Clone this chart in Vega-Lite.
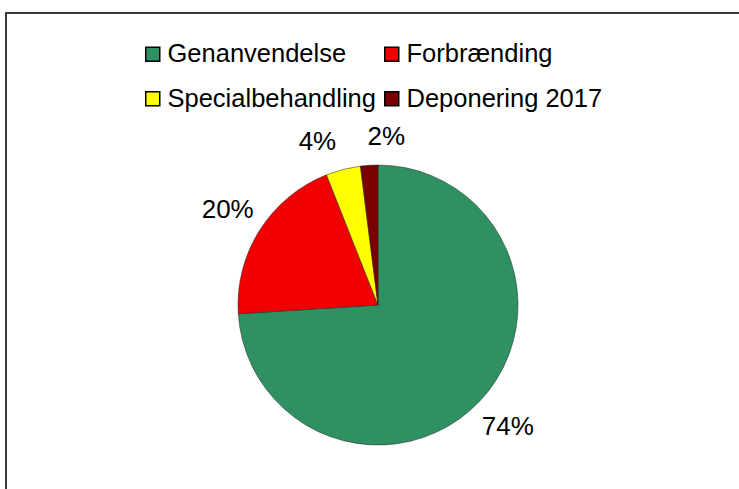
{
  "$schema": "https://vega.github.io/schema/vega-lite/v6.json",
  "width": 744,
  "height": 584,
  "autosize": {"type": "none"},
  "padding": {"left": 6, "top": 13, "right": 0, "bottom": 0},
  "background": "white",
  "config": {
    "font": "Liberation Sans",
    "view": {"stroke": null},
    "legend": {
      "orient": "none",
      "direction": "horizontal",
      "legendX": 134,
      "legendY": 28,
      "padding": 0,
      "columns": 2,
      "symbolType": "square",
      "symbolSize": 196,
      "symbolStrokeColor": "black",
      "symbolStrokeWidth": 1.5,
      "labelFont": "Liberation Sans",
      "labelFontSize": 25.5,
      "labelColor": "black",
      "labelOffset": 2,
      "labelLimit": 400,
      "rowPadding": 18,
      "columnPadding": 3
    }
  },
  "data": {
    "values": [
      {"kategori": "Genanvendelse", "andel": 74, "orden": 1, "label": "74%"},
      {"kategori": "Forbrænding", "andel": 20, "orden": 2, "label": "20%"},
      {"kategori": "Specialbehandling", "andel": 4, "orden": 3, "label": "4%"},
      {"kategori": "Deponering 2017", "andel": 2, "orden": 4, "label": "2%"}
    ]
  },
  "layer": [
    {
      "mark": {"type": "rect", "fill": null, "stroke": "#3a3a3a", "strokeWidth": 1.5},
      "encoding": {}
    },
    {
      "mark": {"type": "arc", "outerRadius": 140, "stroke": "#222", "strokeWidth": 0.5},
      "encoding": {
        "theta": {"field": "andel", "type": "quantitative", "stack": true},
        "order": {"field": "orden", "type": "quantitative"},
        "color": {
          "field": "kategori",
          "type": "nominal",
          "scale": {
            "domain": ["Genanvendelse", "Forbrænding", "Specialbehandling", "Deponering 2017"],
            "range": ["#2f9162", "#f00000", "#ffff00", "#7a0000"]
          },
          "legend": {"title": null}
        }
      }
    },
    {
      "mark": {"type": "text", "radius": 178, "fontSize": 26, "color": "black", "font": "Liberation Sans"},
      "encoding": {
        "theta": {"field": "andel", "type": "quantitative", "stack": true},
        "order": {"field": "orden", "type": "quantitative"},
        "text": {"condition": {"test": "datum.orden <= 2", "field": "label"}, "value": ""}
      }
    },
    {
      "mark": {"type": "text", "radius": 168, "fontSize": 26, "color": "black", "align": "right", "font": "Liberation Sans"},
      "encoding": {
        "theta": {"field": "andel", "type": "quantitative", "stack": true},
        "order": {"field": "orden", "type": "quantitative"},
        "text": {"condition": {"test": "datum.orden == 3", "field": "label"}, "value": ""}
      }
    },
    {
      "mark": {"type": "text", "radius": 168, "fontSize": 26, "color": "black", "align": "left", "font": "Liberation Sans"},
      "encoding": {
        "theta": {"field": "andel", "type": "quantitative", "stack": true},
        "order": {"field": "orden", "type": "quantitative"},
        "text": {"condition": {"test": "datum.orden == 4", "field": "label"}, "value": ""}
      }
    }
  ]
}
